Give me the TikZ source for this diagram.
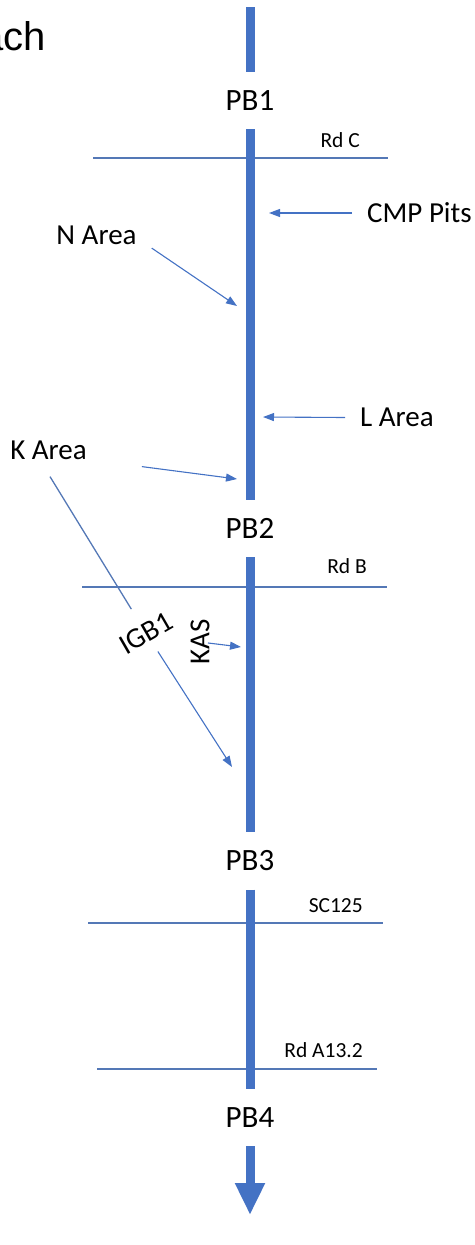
\documentclass[tikz,border=0pt]{standalone}
\usepackage{fontspec}
\setmainfont{Carlito}
\newfontfamily\arialfont{Liberation Sans}
\usetikzlibrary{arrows.meta,positioning}
\definecolor{pipeblue}{RGB}{68,114,196}
\definecolor{roadblue}{RGB}{84,120,182}

\begin{document}
\begin{tikzpicture}[x=1pt,y=-1pt,
  pb/.style={inner sep=0pt,minimum height=57pt,font=\fontsize{31}{34}\selectfont},
  lbl/.style={inner sep=0pt,font=\fontsize{29}{32}\selectfont},
  rdlbl/.style={inner sep=0pt,anchor=base east,font=\fontsize{21.5}{24}\selectfont},
  road/.style={roadblue,line width=1.3pt},
  ptr/.style={-{Triangle[length=11pt,width=8pt]},pipeblue,line width=1.1pt},
  pipe/.style={pipeblue,line width=9pt}]
  \useasboundingbox (0,0) rectangle (474,1245);
  % cut-off heading
  \node[inner sep=0pt,anchor=base east,font=\arialfont\fontsize{40}{44}\selectfont] (head) at (46,50) {ach};
  % roads crossing the line
  \foreach \name/\yy/\xa/\xb/\lx/\ly/\txt in {rdc/158/93/388/360/147/Rd C,
      rdb/587/82/387/367/573/Rd B,
      sca/923/88/383/363/912/SC125,
      rda/1069/97/377/363/1057/Rd A13.2} {
    \draw[road] (\xa,\yy) -- (\xb,\yy);
    \node[rdlbl] (\name) at (\lx,\ly) {\txt};
  }
  % main line and its points
  \coordinate (top) at (250,7);
  \node[pb] (pb1) at (250,100.5) {PB1};
  \node[pb] (pb2) at (250,528.5) {PB2};
  \node[pb] (pb3) at (250,861) {PB3};
  \node[pb] (pb4) at (250,1117.5) {PB4};
  \coordinate (tip) at (250,1215);
  \draw[pipe] (top) -- (pb1);
  \draw[pipe] (pb1) -- (pb2);
  \draw[pipe] (pb2) -- (pb3);
  \draw[pipe] (pb3) -- (pb4);
  \draw[pipe,-{Triangle[length=32pt,width=28pt]}] (pb4) -- (tip);
  % area labels
  \node[lbl,anchor=west] (cmp) at (367,213) {CMP Pits};
  \node[lbl] (narea) at (96.5,235.5) {N Area};
  \node[lbl] (larea) at (397,417.5) {L Area};
  \node[lbl] (karea) at (48.5,450) {K Area};
  \node[lbl,rotate=30] (igb) at (146,633) {IGB1};
  \node[lbl,rotate=90] (kas) at (200,642) {KAS};
  \coordinate (cmptip) at (269,213);
  \coordinate (ntip) at (237,306);
  \coordinate (ltip) at (263,417);
  \coordinate (ktip) at (237,479);
  \coordinate (igbtip) at (232,767);
  \coordinate (kastip) at (241,647);
  \draw[ptr] ([xshift=-15pt]cmp.west) -- (cmptip);
  \draw[ptr] ([shift={(15,3)}]narea.south east) -- (ntip);
  \draw[ptr] ([xshift=-15pt]larea.west) -- (ltip);
  \draw[ptr] ([shift={(55,7)}]karea.south east) -- (ktip);
  \draw[road,shorten >=28pt] ([shift={(1.5,17)}]karea.south) -- (igb.center);
  \draw[ptr,shorten <=22pt] (igb.center) -- (igbtip);
  \draw[ptr,shorten <=8pt] (kas.center) -- (kastip);
\end{tikzpicture}
\end{document}
